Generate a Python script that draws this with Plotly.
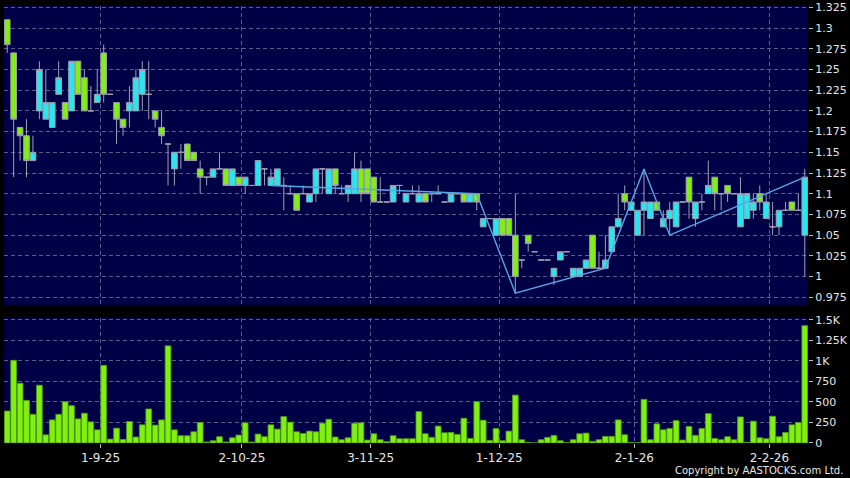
import plotly.graph_objects as go

# ---------------- data ----------------
opens = [1.31, 1.27, 1.18, 1.17, 1.14, 1.20, 1.19, 1.18, 1.22, 1.21,
         1.20, 1.26, 1.24, 1.20, 1.21, 1.27, 1.22, 1.21, 1.19, 1.20,
         1.20, 1.22, 1.22, 1.20, 1.18, 1.16, 1.13, 1.15, 1.16, 1.15,
         1.13, 1.12, 1.12, 1.13, 1.13, 1.11, 1.12, 1.11, 1.11, 1.11,
         1.13, 1.11, 1.11, 1.11, 1.10, 1.10, 1.10, 1.09, 1.10, 1.13,
         1.10, 1.13, 1.10, 1.10, 1.10, 1.13, 1.13, 1.12, 1.09, 1.09,
         1.09, 1.11, 1.09, 1.10, 1.09, 1.10, 1.10, 1.10, 1.09, 1.09,
         1.10, 1.10, 1.09, 1.10, 1.06, 1.07, 1.05, 1.07, 1.07, 1.05,
         1.02, 1.05, 1.03, 1.02, 1.02, 1.00, 1.02, 1.03, 1.00, 1.00,
         1.01, 1.05, 1.01, 1.01, 1.03, 1.06, 1.10, 1.08, 1.05, 1.08,
         1.07, 1.09, 1.06, 1.07, 1.06, 1.09, 1.12, 1.07, 1.09, 1.10,
         1.12, 1.10, 1.11, 1.10, 1.06, 1.07, 1.08, 1.10, 1.07, 1.06,
         1.06, 1.08, 1.09, 1.08, 1.05]
highs = [1.31, 1.27, 1.18, 1.19, 1.17, 1.26, 1.25, 1.21, 1.26, 1.21,
         1.26, 1.26, 1.25, 1.23, 1.25, 1.28, 1.22, 1.21, 1.19, 1.23,
         1.25, 1.26, 1.26, 1.20, 1.20, 1.16, 1.15, 1.16, 1.16, 1.15,
         1.14, 1.12, 1.13, 1.15, 1.13, 1.13, 1.12, 1.12, 1.11, 1.14,
         1.13, 1.13, 1.13, 1.12, 1.11, 1.10, 1.11, 1.10, 1.13, 1.13,
         1.13, 1.13, 1.11, 1.11, 1.15, 1.14, 1.13, 1.12, 1.12, 1.09,
         1.11, 1.11, 1.10, 1.11, 1.11, 1.10, 1.10, 1.11, 1.09, 1.10,
         1.10, 1.10, 1.10, 1.10, 1.07, 1.07, 1.07, 1.07, 1.07, 1.10,
         1.02, 1.05, 1.03, 1.02, 1.02, 1.01, 1.03, 1.03, 1.01, 1.01,
         1.02, 1.05, 1.03, 1.05, 1.06, 1.10, 1.11, 1.09, 1.08, 1.13,
         1.09, 1.09, 1.08, 1.09, 1.09, 1.09, 1.12, 1.09, 1.10, 1.14,
         1.12, 1.10, 1.11, 1.10, 1.12, 1.10, 1.10, 1.11, 1.10, 1.09,
         1.08, 1.09, 1.09, 1.10, 1.13]
lows = [1.27, 1.12, 1.14, 1.12, 1.14, 1.19, 1.19, 1.18, 1.22, 1.19,
        1.20, 1.22, 1.20, 1.20, 1.21, 1.21, 1.22, 1.16, 1.17, 1.18,
        1.20, 1.20, 1.19, 1.18, 1.16, 1.11, 1.11, 1.13, 1.14, 1.14,
        1.10, 1.11, 1.12, 1.13, 1.11, 1.11, 1.11, 1.10, 1.11, 1.11,
        1.11, 1.11, 1.11, 1.08, 1.10, 1.08, 1.10, 1.09, 1.09, 1.10,
        1.10, 1.10, 1.10, 1.09, 1.10, 1.09, 1.10, 1.09, 1.09, 1.09,
        1.09, 1.10, 1.09, 1.10, 1.09, 1.09, 1.09, 1.10, 1.09, 1.09,
        1.10, 1.09, 1.09, 1.08, 1.06, 1.07, 1.05, 1.05, 1.05, 0.98,
        1.01, 1.03, 1.03, 1.02, 1.02, 0.99, 1.02, 1.03, 1.00, 1.00,
        1.01, 1.01, 1.01, 1.01, 1.03, 1.06, 1.08, 1.08, 1.05, 1.05,
        1.07, 1.08, 1.06, 1.05, 1.06, 1.09, 1.07, 1.06, 1.08, 1.10,
        1.08, 1.08, 1.09, 1.10, 1.06, 1.07, 1.07, 1.08, 1.07, 1.05,
        1.05, 1.08, 1.08, 1.08, 1.00]
closes = [1.28, 1.19, 1.17, 1.14, 1.15, 1.25, 1.21, 1.21, 1.24, 1.19,
          1.26, 1.22, 1.20, 1.20, 1.22, 1.22, 1.22, 1.19, 1.18, 1.21,
          1.24, 1.25, 1.22, 1.19, 1.17, 1.16, 1.15, 1.15, 1.14, 1.14,
          1.12, 1.12, 1.13, 1.13, 1.11, 1.13, 1.11, 1.12, 1.11, 1.14,
          1.13, 1.12, 1.13, 1.11, 1.10, 1.08, 1.10, 1.10, 1.13, 1.13,
          1.13, 1.11, 1.10, 1.11, 1.13, 1.10, 1.10, 1.09, 1.09, 1.09,
          1.11, 1.11, 1.10, 1.10, 1.10, 1.09, 1.10, 1.10, 1.09, 1.10,
          1.10, 1.09, 1.10, 1.09, 1.07, 1.07, 1.07, 1.05, 1.05, 1.00,
          1.02, 1.04, 1.03, 1.02, 1.02, 1.01, 1.03, 1.03, 1.01, 1.01,
          1.02, 1.01, 1.01, 1.02, 1.06, 1.07, 1.09, 1.09, 1.08, 1.09,
          1.09, 1.08, 1.07, 1.08, 1.09, 1.09, 1.09, 1.09, 1.09, 1.11,
          1.10, 1.10, 1.10, 1.10, 1.10, 1.10, 1.09, 1.09, 1.09, 1.06,
          1.08, 1.08, 1.08, 1.08, 1.12]
volumes = [390, 1008, 729, 520, 350, 705, 100, 282, 350, 504,
           455, 294, 363, 258, 161, 947, 48, 181, 44, 262,
           73, 222, 415, 218, 282, 1185, 161, 89, 89, 137,
           250, 12, 28, 77, 12, 64, 97, 246, 12, 109,
           77, 222, 169, 322, 254, 137, 117, 145, 137, 242,
           290, 73, 40, 64, 242, 246, 36, 113, 40, 16,
           89, 52, 52, 52, 383, 113, 69, 206, 125, 129,
           105, 302, 56, 504, 278, 32, 177, 28, 145, 584,
           40, 8, 2, 40, 69, 93, 28, 4, 40, 113,
           121, 20, 40, 81, 81, 282, 101, 8, 3, 532,
           40, 234, 161, 177, 274, 36, 202, 93, 177, 359,
           56, 40, 77, 40, 318, 8, 266, 64, 52, 326,
           77, 129, 222, 250, 1431]

# zig-zag overlay (bar index, price)
zz_idx = [41, 73, 79, 93, 99, 103, 124]
zz_val = [1.11, 1.10, 0.98, 1.01, 1.13, 1.05, 1.12]

# date ticks: first bar of each labelled day
tick_bar = [15, 37, 57, 77, 98, 119]
tick_text = ["1-9-25", "2-10-25", "3-11-25", "1-12-25", "2-1-26", "2-2-26"]

price_ticks = [1.325, 1.3, 1.275, 1.25, 1.225, 1.2, 1.175, 1.15, 1.125,
               1.1, 1.075, 1.05, 1.025, 1.0, 0.975]
price_tick_text = ["1.325", "1.3", "1.275", "1.25", "1.225", "1.2", "1.175",
                   "1.15", "1.125", "1.1", "1.075", "1.05", "1.025", "1", "0.975"]
vol_ticks = [0, 250, 500, 750, 1000, 1250, 1500]
vol_tick_text = ["0", "250", "500", "750", "1K", "1.25K", "1.5K"]

# ---------------- figure ----------------
x = list(range(len(opens)))
grid_pos = [b - 0.5 for b in tick_bar]

NAVY = "#000046"
GRID = "#5c5c8e"
CYAN = "#22e8f2"
GREEN = "#80f010"
WICK = "#a0a0b0"
TXT = "#e6e6e6"
FONT = "DejaVu Sans"

fig = go.Figure()
fig.add_trace(go.Candlestick(
    x=x, open=opens, high=highs, low=lows, close=closes,
    increasing=dict(line=dict(color=WICK, width=1), fillcolor=CYAN),
    decreasing=dict(line=dict(color=WICK, width=1), fillcolor=GREEN),
    whiskerwidth=0, xaxis="x", yaxis="y", showlegend=False, hoverinfo="skip"))
fig.add_trace(go.Scatter(
    x=zz_idx, y=zz_val, mode="lines", line=dict(color="#55a8e6", width=1.4),
    xaxis="x", yaxis="y", showlegend=False, hoverinfo="skip"))
fig.add_trace(go.Bar(
    x=x, y=volumes, marker=dict(color=GREEN, line=dict(color="#4e9a12", width=0.8)),
    xaxis="x2", yaxis="y2", showlegend=False, hoverinfo="skip"))

xcommon = dict(range=[-0.5, len(opens) - 0.5], tickmode="array", tickvals=grid_pos,
               showgrid=True, gridcolor=GRID, griddash="4px,3px", gridwidth=1,
               zeroline=False, showline=False, fixedrange=True)
ycommon = dict(side="right", showgrid=True, gridcolor=GRID, griddash="4px,3px",
               gridwidth=1, zeroline=False, showline=False, ticks="outside",
               ticklen=4, tickcolor="#bbbbbb", fixedrange=True,
               tickfont=dict(family=FONT, size=11, color=TXT))

fig.update_layout(
    width=850, height=478,
    margin=dict(l=4, r=42, t=6, b=35, autoexpand=False),
    paper_bgcolor="#000000", plot_bgcolor=NAVY,
    boxgap=0.12, boxgroupgap=0.0, bargap=0.1,
    xaxis=dict(**xcommon, anchor="y", showticklabels=False, ticks="",
               rangeslider=dict(visible=False)),
    xaxis2=dict(**xcommon, anchor="y2", matches="x", ticktext=tick_text, ticks="outside",
                ticklen=4, tickcolor="#bbbbbb",
                tickfont=dict(family=FONT, size=12, color=TXT)),
    yaxis=dict(**ycommon, domain=[0.3158, 1.0], range=[0.9657, 1.3266],
               tickmode="array", tickvals=price_ticks, ticktext=price_tick_text),
    yaxis2=dict(**ycommon, domain=[0.0, 0.286], range=[0, 1524],
                tickmode="array", tickvals=vol_ticks, ticktext=vol_tick_text),
    annotations=[dict(text="Copyright by AASTOCKS.com Ltd.", xref="paper", yref="paper",
                      x=1.0, y=-0.064, xanchor="right", yanchor="middle", xshift=37,
                      showarrow=False, font=dict(family=FONT, size=10, color=TXT))],
)

fig.write_html("out.html", config={"displayModeBar": False},
               post_script="document.body.style.margin='0px';")
